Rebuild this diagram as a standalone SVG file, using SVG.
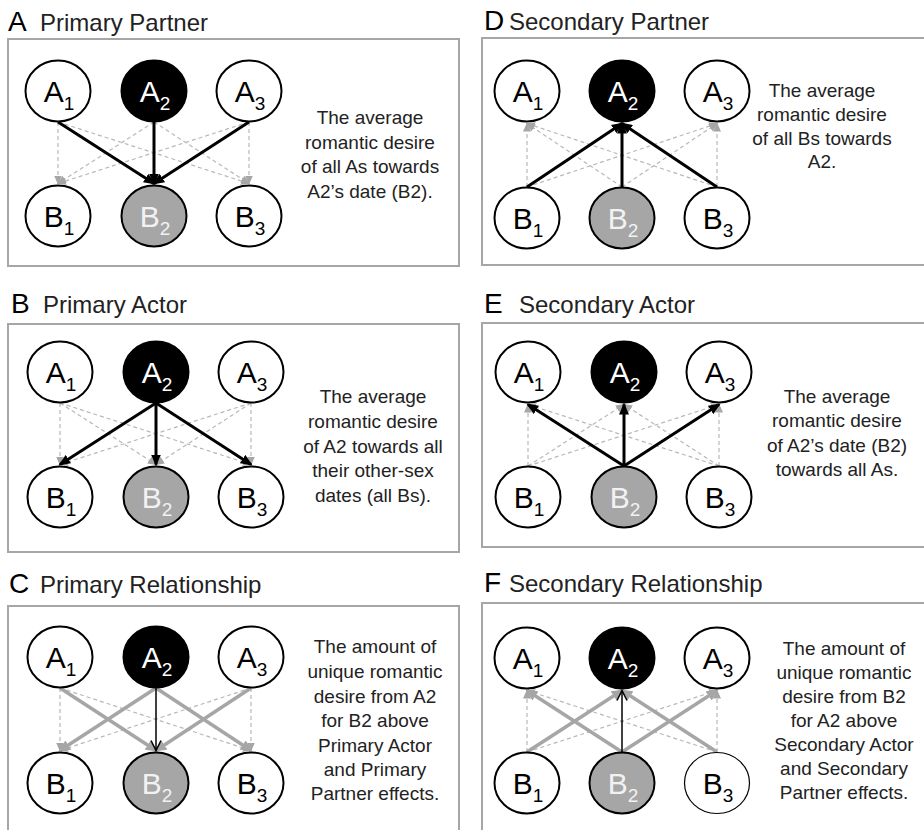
<svg xmlns="http://www.w3.org/2000/svg" width="924" height="830" viewBox="0 0 924 830">
<style>
.bg{fill:#fff}
.box{fill:none;stroke:#a6a6a6;stroke-width:2}
.n{fill:#fff;stroke:#000;stroke-width:2}
.nk{fill:#000;stroke:#000;stroke-width:2}
.ng{fill:#a6a6a6;stroke:#000;stroke-width:2}
.nt{fill:#fff;stroke:#000;stroke-width:1.2}
text{font-family:"Liberation Sans",Arial,sans-serif}
.lbl{font-size:30px;text-anchor:middle;fill:#000}
.lw{fill:#fff}
.lg{fill:#f2f2f2}
.sub{font-size:19px}
.ttl{font-size:24px;fill:#222}
.let{font-size:28px;fill:#000}
.desc{font-size:19px;text-anchor:middle;fill:#222}
.dash{fill:none;stroke:#b8b8b8;stroke-width:1.2;stroke-dasharray:4 3;marker-end:url(#ag)}
.bk{fill:none;stroke:#000;stroke-width:3;marker-end:url(#ab)}
.gr{fill:none;stroke:#a6a6a6;stroke-width:3.5;marker-end:url(#agt)}
.th{fill:none;stroke:#000;stroke-width:1.5;marker-end:url(#av)}
</style>
<defs>
<marker id="ag" markerUnits="userSpaceOnUse" viewBox="0 0 9 8" markerWidth="9" markerHeight="8" refX="8" refY="4" orient="auto"><path d="M0,0 L9,4 L0,8 z" fill="#a6a6a6"/></marker>
<marker id="ab" markerUnits="userSpaceOnUse" viewBox="0 0 12 10" markerWidth="12" markerHeight="10" refX="10" refY="5" orient="auto"><path d="M0,0 L12,5 L0,10 z" fill="#000"/></marker>
<marker id="agt" markerUnits="userSpaceOnUse" viewBox="0 0 12 11" markerWidth="12" markerHeight="11" refX="10" refY="5.5" orient="auto"><path d="M0,0 L12,5.5 L0,11 z" fill="#a6a6a6"/></marker>
<marker id="av" markerUnits="userSpaceOnUse" viewBox="-1 -1 13 12" markerWidth="13" markerHeight="12" refX="10" refY="5" orient="auto"><path d="M0,0 L10,5 L0,10" fill="none" stroke="#000" stroke-width="1.5"/></marker>
</defs>
<rect class="bg" x="0" y="0" width="924" height="830"/>

<!-- Titles -->
<g id="titles">
<text class="let" x="8" y="31">A</text><text class="ttl" x="40" y="31">Primary Partner</text>
<text class="let" x="11" y="313">B</text><text class="ttl" x="43" y="313">Primary Actor</text>
<text class="let" x="9" y="593">C</text><text class="ttl" x="40" y="593">Primary Relationship</text>
<text class="let" x="484" y="30">D</text><text class="ttl" x="509" y="30">Secondary Partner</text>
<text class="let" x="484" y="313">E</text><text class="ttl" x="519" y="313">Secondary Actor</text>
<text class="let" x="484" y="592">F</text><text class="ttl" x="509" y="592">Secondary Relationship</text>
</g>

<!-- Panel boxes -->
<g id="boxes">
<rect class="box" x="8" y="39" width="451" height="227"/>
<rect class="box" x="8" y="324" width="451" height="228"/>
<rect class="box" x="8" y="606" width="451" height="240"/>
<rect class="box" x="482" y="38" width="460" height="227"/>
<rect class="box" x="482" y="323" width="460" height="224"/>
<rect class="box" x="482" y="603" width="460" height="240"/>
</g>

<!-- Connectors -->
<g id="connectors">
<!-- A -->
<line class="dash" x1="58" y1="122" x2="58" y2="183.5"/>
<line class="dash" x1="58" y1="122" x2="249" y2="183.5"/>
<line class="dash" x1="154" y1="122" x2="58" y2="183.5"/>
<line class="dash" x1="154" y1="122" x2="249" y2="183.5"/>
<line class="dash" x1="249" y1="122" x2="58" y2="183.5"/>
<line class="dash" x1="249" y1="122" x2="249" y2="183.5"/>
<line class="bk" x1="58" y1="122" x2="154" y2="183.5"/>
<line class="bk" x1="154" y1="122" x2="154" y2="183.5"/>
<line class="bk" x1="249" y1="122" x2="154" y2="183.5"/>
<!-- B -->
<line class="dash" x1="60" y1="403" x2="60" y2="464.5"/>
<line class="dash" x1="60" y1="403" x2="156" y2="464.5"/>
<line class="dash" x1="60" y1="403" x2="251" y2="464.5"/>
<line class="dash" x1="251" y1="403" x2="60" y2="464.5"/>
<line class="dash" x1="251" y1="403" x2="156" y2="464.5"/>
<line class="dash" x1="251" y1="403" x2="251" y2="464.5"/>
<line class="bk" x1="156" y1="403" x2="60" y2="464.5"/>
<line class="bk" x1="156" y1="403" x2="156" y2="464.5"/>
<line class="bk" x1="156" y1="403" x2="251" y2="464.5"/>
<!-- C -->
<line class="dash" x1="60" y1="688" x2="60" y2="750.5"/>
<line class="dash" x1="60" y1="688" x2="251" y2="750.5"/>
<line class="dash" x1="251" y1="688" x2="60" y2="750.5"/>
<line class="dash" x1="251" y1="688" x2="251" y2="750.5"/>
<line class="gr" x1="60" y1="688" x2="156" y2="750.5"/>
<line class="gr" x1="156" y1="688" x2="60" y2="750.5"/>
<line class="gr" x1="156" y1="688" x2="251" y2="750.5"/>
<line class="gr" x1="251" y1="688" x2="156" y2="750.5"/>
<line class="th" x1="156" y1="688" x2="156" y2="750.5"/>
<!-- D -->
<line class="dash" x1="527" y1="187" x2="527" y2="123.5"/>
<line class="dash" x1="527" y1="187" x2="717" y2="123.5"/>
<line class="dash" x1="622" y1="187" x2="527" y2="123.5"/>
<line class="dash" x1="622" y1="187" x2="717" y2="123.5"/>
<line class="dash" x1="717" y1="187" x2="527" y2="123.5"/>
<line class="dash" x1="717" y1="187" x2="717" y2="123.5"/>
<line class="bk" x1="527" y1="187" x2="622" y2="123.5"/>
<line class="bk" x1="622" y1="187" x2="622" y2="123.5"/>
<line class="bk" x1="717" y1="187" x2="622" y2="123.5"/>
<!-- E -->
<line class="dash" x1="528" y1="466" x2="528" y2="404.5"/>
<line class="dash" x1="528" y1="466" x2="624" y2="404.5"/>
<line class="dash" x1="528" y1="466" x2="719" y2="404.5"/>
<line class="dash" x1="719" y1="466" x2="528" y2="404.5"/>
<line class="dash" x1="719" y1="466" x2="624" y2="404.5"/>
<line class="dash" x1="719" y1="466" x2="719" y2="404.5"/>
<line class="bk" x1="624" y1="466" x2="528" y2="404.5"/>
<line class="bk" x1="624" y1="466" x2="624" y2="404.5"/>
<line class="bk" x1="624" y1="466" x2="719" y2="404.5"/>
<!-- F -->
<line class="dash" x1="527" y1="752" x2="527" y2="690.5"/>
<line class="dash" x1="527" y1="752" x2="717" y2="690.5"/>
<line class="dash" x1="717" y1="752" x2="527" y2="690.5"/>
<line class="dash" x1="717" y1="752" x2="717" y2="690.5"/>
<line class="gr" x1="527" y1="752" x2="622" y2="690.5"/>
<line class="gr" x1="622" y1="752" x2="527" y2="690.5"/>
<line class="gr" x1="622" y1="752" x2="717" y2="690.5"/>
<line class="gr" x1="717" y1="752" x2="622" y2="690.5"/>
<line class="th" x1="622" y1="752" x2="622" y2="690.5"/>
</g>

<!-- Panel A nodes -->
<g id="A-A1"><ellipse class="n" cx="58" cy="91" rx="32.5" ry="30.5"/><text class="lbl" x="59" y="102">A<tspan class="sub" dy="8">1</tspan></text></g>
<g id="A-A2"><ellipse class="nk" cx="154" cy="91" rx="32.5" ry="30.5"/><text class="lbl lw" x="155" y="102">A<tspan class="sub" dy="8">2</tspan></text></g>
<g id="A-A3"><ellipse class="n" cx="249" cy="91" rx="32.5" ry="30.5"/><text class="lbl" x="250" y="102">A<tspan class="sub" dy="8">3</tspan></text></g>
<g id="A-B1"><ellipse class="n" cx="58" cy="216" rx="32.5" ry="30.5"/><text class="lbl" x="59" y="227">B<tspan class="sub" dy="8">1</tspan></text></g>
<g id="A-B2"><ellipse class="ng" cx="154" cy="216" rx="32.5" ry="30.5"/><text class="lbl lg" x="155" y="227">B<tspan class="sub" dy="8">2</tspan></text></g>
<g id="A-B3"><ellipse class="n" cx="249" cy="216" rx="32.5" ry="30.5"/><text class="lbl" x="250" y="227">B<tspan class="sub" dy="8">3</tspan></text></g>
<g id="A-text"><text class="desc" x="370" y="124">The average</text><text class="desc" x="370" y="148.5">romantic desire</text><text class="desc" x="370" y="173">of all As towards</text><text class="desc" x="370" y="197.5">A2’s date (B2).</text></g>

<!-- Panel B nodes -->
<g id="B-A1"><ellipse class="n" cx="60" cy="372" rx="32.5" ry="30.5"/><text class="lbl" x="61" y="383">A<tspan class="sub" dy="8">1</tspan></text></g>
<g id="B-A2"><ellipse class="nk" cx="156" cy="372" rx="32.5" ry="30.5"/><text class="lbl lw" x="157" y="383">A<tspan class="sub" dy="8">2</tspan></text></g>
<g id="B-A3"><ellipse class="n" cx="251" cy="372" rx="32.5" ry="30.5"/><text class="lbl" x="252" y="383">A<tspan class="sub" dy="8">3</tspan></text></g>
<g id="B-B1"><ellipse class="n" cx="60" cy="497" rx="32.5" ry="30.5"/><text class="lbl" x="61" y="508">B<tspan class="sub" dy="8">1</tspan></text></g>
<g id="B-B2"><ellipse class="ng" cx="156" cy="497" rx="32.5" ry="30.5"/><text class="lbl lg" x="157" y="508">B<tspan class="sub" dy="8">2</tspan></text></g>
<g id="B-B3"><ellipse class="n" cx="251" cy="497" rx="32.5" ry="30.5"/><text class="lbl" x="252" y="508">B<tspan class="sub" dy="8">3</tspan></text></g>
<g id="B-text"><text class="desc" x="373" y="403">The average</text><text class="desc" x="373" y="428">romantic desire</text><text class="desc" x="373" y="453">of A2 towards all</text><text class="desc" x="373" y="477">their other-sex</text><text class="desc" x="373" y="502">dates (all Bs).</text></g>

<!-- Panel C nodes -->
<g id="C-A1"><ellipse class="n" cx="60" cy="657" rx="32.5" ry="30.5"/><text class="lbl" x="61" y="668">A<tspan class="sub" dy="8">1</tspan></text></g>
<g id="C-A2"><ellipse class="nk" cx="156" cy="657" rx="32.5" ry="30.5"/><text class="lbl lw" x="157" y="668">A<tspan class="sub" dy="8">2</tspan></text></g>
<g id="C-A3"><ellipse class="n" cx="251" cy="657" rx="32.5" ry="30.5"/><text class="lbl" x="252" y="668">A<tspan class="sub" dy="8">3</tspan></text></g>
<g id="C-B1"><ellipse class="n" cx="60" cy="783" rx="32.5" ry="30.5"/><text class="lbl" x="61" y="794">B<tspan class="sub" dy="8">1</tspan></text></g>
<g id="C-B2"><ellipse class="ng" cx="156" cy="783" rx="32.5" ry="30.5"/><text class="lbl lg" x="157" y="794">B<tspan class="sub" dy="8">2</tspan></text></g>
<g id="C-B3"><ellipse class="n" cx="251" cy="783" rx="32.5" ry="30.5"/><text class="lbl" x="252" y="794">B<tspan class="sub" dy="8">3</tspan></text></g>
<g id="C-text"><text class="desc" x="375" y="653">The amount of</text><text class="desc" x="375" y="678">unique romantic</text><text class="desc" x="375" y="703">desire from A2</text><text class="desc" x="375" y="727">for B2 above</text><text class="desc" x="375" y="752">Primary Actor</text><text class="desc" x="375" y="776">and Primary</text><text class="desc" x="375" y="800">Partner effects.</text></g>

<!-- Panel D nodes -->
<g id="D-A1"><ellipse class="n" cx="527" cy="91" rx="32.5" ry="30.5"/><text class="lbl" x="528" y="102">A<tspan class="sub" dy="8">1</tspan></text></g>
<g id="D-A2"><ellipse class="nk" cx="622" cy="91" rx="32.5" ry="30.5"/><text class="lbl lw" x="623" y="102">A<tspan class="sub" dy="8">2</tspan></text></g>
<g id="D-A3"><ellipse class="n" cx="717" cy="91" rx="32.5" ry="30.5"/><text class="lbl" x="718" y="102">A<tspan class="sub" dy="8">3</tspan></text></g>
<g id="D-B1"><ellipse class="n" cx="527" cy="218" rx="32.5" ry="30.5"/><text class="lbl" x="528" y="229">B<tspan class="sub" dy="8">1</tspan></text></g>
<g id="D-B2"><ellipse class="ng" cx="622" cy="218" rx="32.5" ry="30.5"/><text class="lbl lg" x="623" y="229">B<tspan class="sub" dy="8">2</tspan></text></g>
<g id="D-B3"><ellipse class="n" cx="717" cy="218" rx="32.5" ry="30.5"/><text class="lbl" x="718" y="229">B<tspan class="sub" dy="8">3</tspan></text></g>
<g id="D-text"><text class="desc" x="822" y="97">The average</text><text class="desc" x="822" y="121">romantic desire</text><text class="desc" x="822" y="145">of all Bs towards</text><text class="desc" x="822" y="168">A2.</text></g>

<!-- Panel E nodes -->
<g id="E-A1"><ellipse class="n" cx="528" cy="372" rx="32.5" ry="30.5"/><text class="lbl" x="529" y="383">A<tspan class="sub" dy="8">1</tspan></text></g>
<g id="E-A2"><ellipse class="nk" cx="624" cy="372" rx="32.5" ry="30.5"/><text class="lbl lw" x="625" y="383">A<tspan class="sub" dy="8">2</tspan></text></g>
<g id="E-A3"><ellipse class="n" cx="719" cy="372" rx="32.5" ry="30.5"/><text class="lbl" x="720" y="383">A<tspan class="sub" dy="8">3</tspan></text></g>
<g id="E-B1"><ellipse class="n" cx="528" cy="497" rx="32.5" ry="30.5"/><text class="lbl" x="529" y="508">B<tspan class="sub" dy="8">1</tspan></text></g>
<g id="E-B2"><ellipse class="ng" cx="624" cy="497" rx="32.5" ry="30.5"/><text class="lbl lg" x="625" y="508">B<tspan class="sub" dy="8">2</tspan></text></g>
<g id="E-B3"><ellipse class="n" cx="719" cy="497" rx="32.5" ry="30.5"/><text class="lbl" x="720" y="508">B<tspan class="sub" dy="8">3</tspan></text></g>
<g id="E-text"><text class="desc" x="837" y="403">The average</text><text class="desc" x="837" y="427">romantic desire</text><text class="desc" x="837" y="452">of A2’s date (B2)</text><text class="desc" x="837" y="476">towards all As.</text></g>

<!-- Panel F nodes -->
<g id="F-A1"><ellipse class="n" cx="527" cy="658" rx="32.5" ry="30.5"/><text class="lbl" x="528" y="669">A<tspan class="sub" dy="8">1</tspan></text></g>
<g id="F-A2"><ellipse class="nk" cx="622" cy="658" rx="32.5" ry="30.5"/><text class="lbl lw" x="623" y="669">A<tspan class="sub" dy="8">2</tspan></text></g>
<g id="F-A3"><ellipse class="n" cx="717" cy="658" rx="32.5" ry="30.5"/><text class="lbl" x="718" y="669">A<tspan class="sub" dy="8">3</tspan></text></g>
<g id="F-B1"><ellipse class="n" cx="527" cy="783" rx="32.5" ry="30.5"/><text class="lbl" x="528" y="794">B<tspan class="sub" dy="8">1</tspan></text></g>
<g id="F-B2"><ellipse class="ng" cx="622" cy="783" rx="32.5" ry="30.5"/><text class="lbl lg" x="623" y="794">B<tspan class="sub" dy="8">2</tspan></text></g>
<g id="F-B3"><ellipse class="nt" cx="717" cy="783" rx="32.5" ry="30.5"/><text class="lbl" x="718" y="794">B<tspan class="sub" dy="8">3</tspan></text></g>
<g id="F-text"><text class="desc" x="844" y="655">The amount of</text><text class="desc" x="844" y="679">unique romantic</text><text class="desc" x="844" y="703">desire from B2</text><text class="desc" x="844" y="727">for A2 above</text><text class="desc" x="844" y="751">Secondary Actor</text><text class="desc" x="844" y="775">and Secondary</text><text class="desc" x="844" y="799">Partner effects.</text></g>
</svg>
